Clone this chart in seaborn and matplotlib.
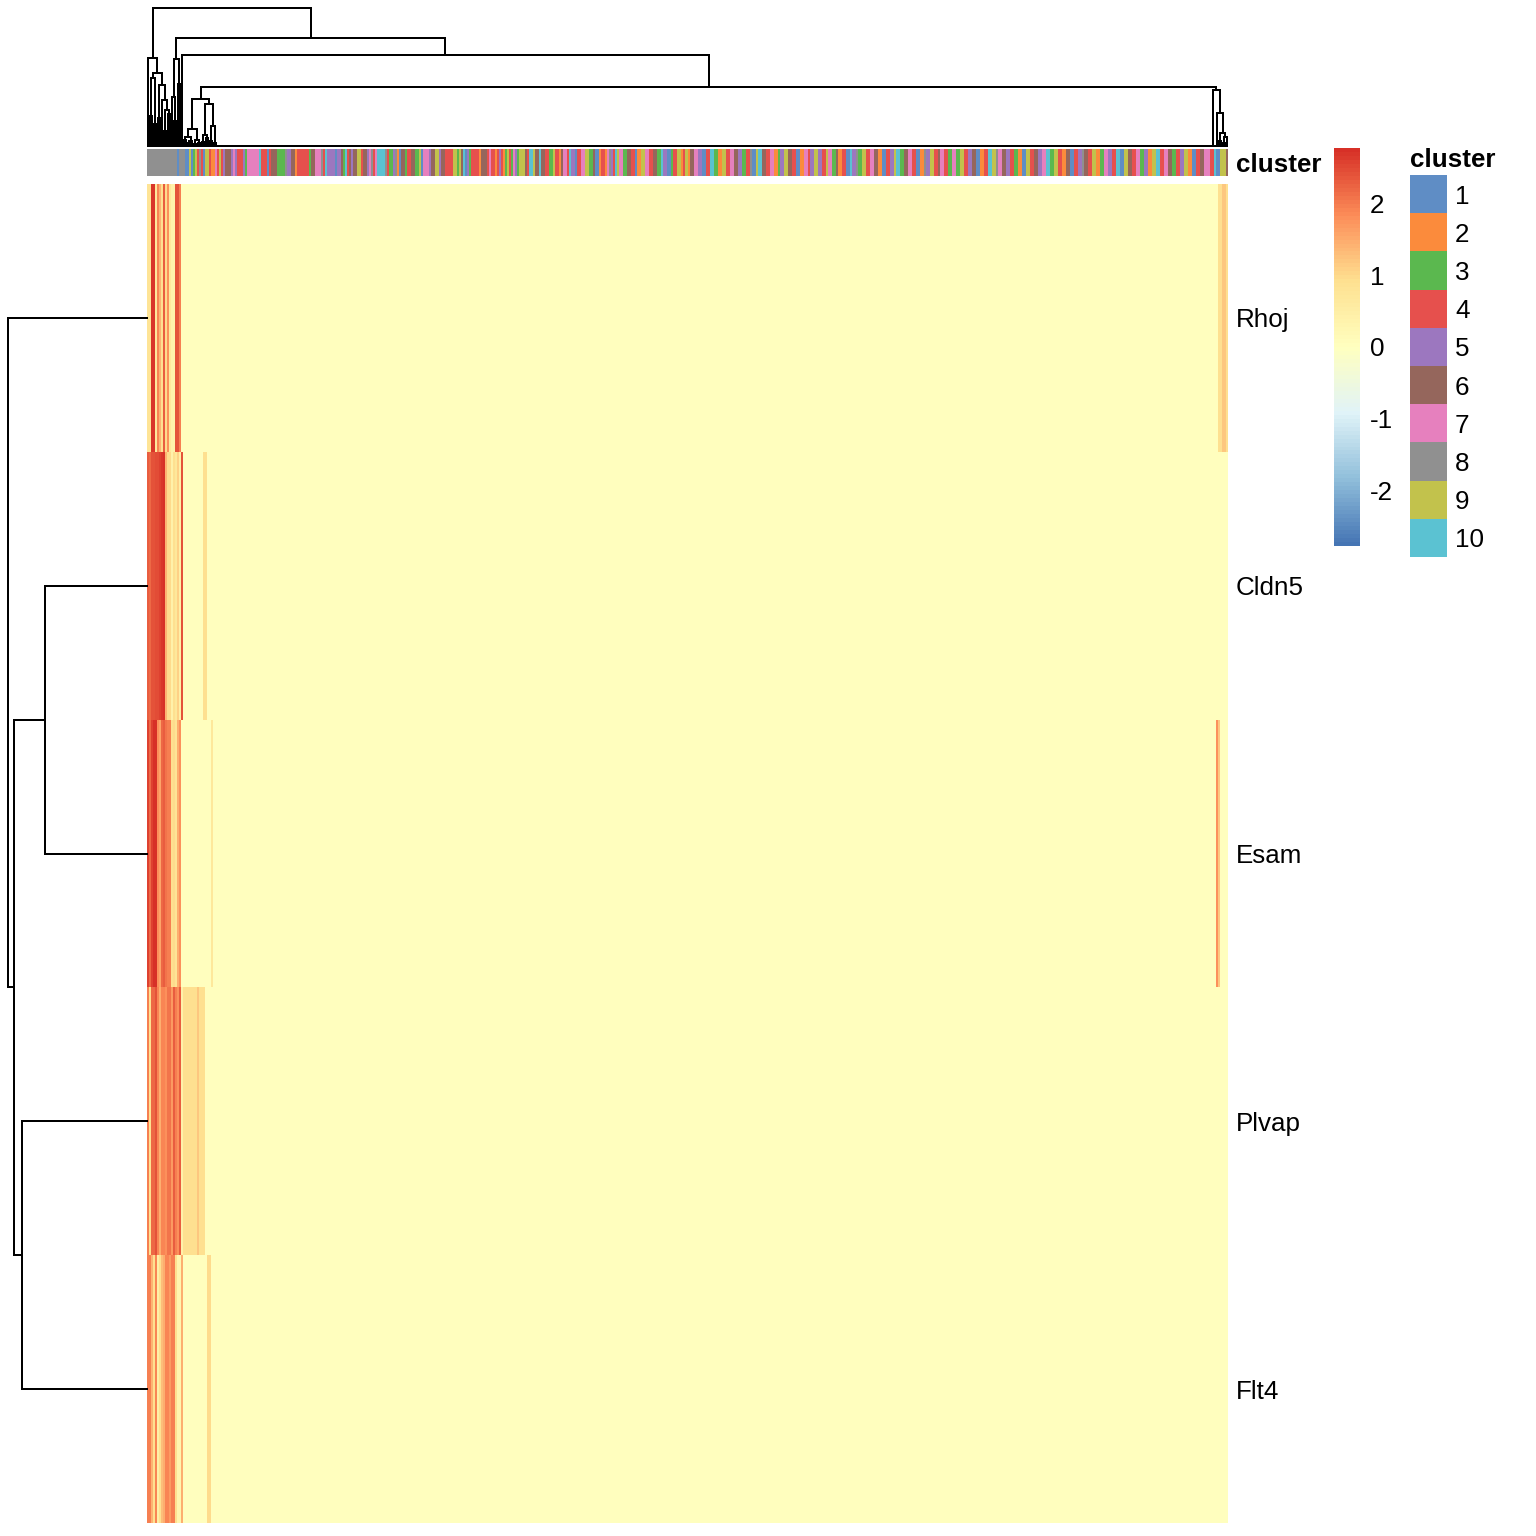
import numpy as np
import pandas as pd
import matplotlib
matplotlib.use("Agg")
import matplotlib.pyplot as plt
import seaborn as sns
from matplotlib.colors import LinearSegmentedColormap, ListedColormap, Normalize
from matplotlib.cm import ScalarMappable

plt.rcParams["font.family"] = ["Liberation Sans", "DejaVu Sans"]
plt.rcParams["axes.unicode_minus"] = False
FS = 19.5

# ---- data ----
genes = ["Rhoj", "Cldn5", "Esam", "Plvap", "Flt4"]
b = 0.05  # flat background value of most cells

# first 35 columns (the clustered block on the left)
rhoj_left = [0.8, 0.8, 2.7, 2.7, 0.7, 1.9, 1.4, 0.9, 2.3, 1.0, 1.8, 0.7, 0.4, 0.4, 2.4, 2.4, 2.0] + [b] * 18
cldn5_left = [2.3, 2.2, 2.4, 2.4, 2.5, 2.5, 2.6, 2.7, 2.75, 1.4, 1.0, 1.0, 0.4, 0.9, 0.7, 1.1, 0.5, 2.4] \
    + [b] * 10 + [0.9, 0.9] + [b] * 5
esam_left = [2.6, 2.2, 2.6, 2.8, 2.8, 1.8, 1.6, 2.2, 2.3, 2.1, 2.0, 2.0, 0.9, 1.0, 0.8, 1.5, 1.8] \
    + [b] * 15 + [0.7] + [b] * 2
plvap_left = [2.0, 0.9, 2.2, 2.2, 2.4, 1.9, 1.5, 1.9, 1.9, 1.8, 2.1, 2.1, 1.7, 2.3, 2.0, 1.8, 2.3, 0.4] \
    + [0.9] * 7 + [1.2] + [0.9] * 3 + [b] * 6
flt4_left = [2.0, 2.0, 1.4, 0.9, 1.9, 0.5, 0.9, 1.3, 1.5, 1.9, 1.9, 1.7, 2.0, 2.0, 0.9, 0.3, 0.3, 1.5] \
    + [b] * 12 + [1.0, 1.0] + [b] * 3

# last 6 columns (small cluster on the right)
rhoj_right = [b, 0.9, 0.9, 1.2, 1.2, 0.9]
cldn5_right = [b] * 6
esam_right = [1.8, 1.2, b, b, b, b]
plvap_right = [b] * 6
flt4_right = [b] * 6

# cluster annotation: run lengths for the left part, one digit per column after that ('0' = 10)
cluster_runs = [
    (8, 15), (1, 1), (8, 3), (1, 2), (9, 1), (1, 1), (3, 1), (9, 1), (4, 1), (8, 1), (4, 1), (1, 1),
    (9, 2), (4, 1), (2, 2), (7, 1), (4, 1), (9, 1), (4, 1), (5, 1), (6, 3), (5, 1), (7, 1), (5, 1),
    (4, 3), (5, 1), (3, 1), (7, 6), (10, 1), (4, 3), (1, 1), (4, 1), (6, 3), (3, 2),
    (3, 2), (8, 1), (5, 2), (6, 2), (2, 1), (4, 6), (3, 1), (6, 2), (7, 3), (8, 1), (4, 1), (10, 1),
    (5, 4), (1, 1), (5, 2), (6, 1), (3, 1), (10, 1), (4, 1), (6, 1), (5, 1), (6, 2), (9, 2), (4, 1),
    (6, 2), (5, 1), (7, 1), (8, 1), (4, 1), (7, 1), (10, 4), (8, 1), (4, 1), (3, 2), (5, 1), (8, 1),
    (2, 1), (1, 1), (6, 2), (3, 1), (4, 2), (6, 2),
    (3, 2), (9, 1), (1, 1), (7, 3), (5, 1), (6, 2), (9, 2), (5, 1), (6, 2), (4, 4), (9, 2), (3, 1),
    (9, 1), (6, 1), (10, 1), (1, 1), (5, 1), (3, 1), (4, 4), (2, 1), (6, 3), (4, 1), (7, 1), (4, 2),
    (2, 1), (4, 1), (5, 1), (4, 1), (2, 1), (3, 1), (9, 1), (4, 1), (3, 1), (7, 1), (5, 1), (3, 1),
    (9, 3), (6, 1), (4, 1), (10, 2), (9, 1), (6, 2), (10, 1), (6, 2), (4, 2),
]
cluster_rest = [
    "3394426774" "0551447799" "3361124427" "8540977336" "6441229977" "4466330551" "1344992",
    "4926677551" "1440033229" "9447766553" "3448119006" "6447722355" "9966441122" "7745599",
    "5544977336" "2244110558" "3399447766" "2211445590" "0336677441" "1228559944" "6774433",
    "7733994455" "6611224400" "9987766554" "4332211994" "4665577003" "3994422661" "144558",
    "6644992233" "7755440011" "9966447733" "5522990044" "7766334455" "9922114466" "777440",
    "119996",
]
cluster_ids = list(range(1, 11))
cluster_colors = ["#5f8dc5", "#fb8b3c", "#5bb84f", "#e6504d", "#9c77bf",
                  "#95665c", "#e680be", "#909090", "#c2c24c", "#5bc2d2"]

annot = []
for c, n in cluster_runs:
    annot += [c] * n
for chunk in cluster_rest:
    annot += [10 if ch == "0" else int(ch) for ch in chunk]
N = len(annot)
mid = N - len(rhoj_left) - len(rhoj_right)

rows = [
    rhoj_left + [b] * mid + rhoj_right,
    cldn5_left + [b] * mid + cldn5_right,
    esam_left + [b] * mid + esam_right,
    plvap_left + [b] * mid + plvap_right,
    flt4_left + [b] * mid + flt4_right,
]
mat = pd.DataFrame(rows, index=genes, columns=range(N))

# dendrograms: (left, right, height), ints are leaves, ("flat", a, b) = identical columns
r = N - 6
col_tree = (
    (0, (((1, 2, 3.0), (3, 4, 2.2), 6.8),
         ((5, 6, 2.8), (7, ((8, 9, 1.5), (10, 11, 3.2), 3.6), 4.6), 6.1), 7.3), 8.8),
    (((12, (13, 14, 2.5), 4.9), (15, 16, 6.2), 8.7),
     (17,
      (((((18, 19, 0.6), ((20, 21, 0.3), 22, 0.5), 0.9), ((23, 24, 0.2), (25, 26, 0.3), 0.6), 1.7),
        (((27, 28, 0.4), (29, 30, 0.8), 1.1), ((31, 32, 0.5), (33, 34, 0.3), 2.0), 4.2), 4.7),
       (("flat", 35, r - 1),
        (r, ((r + 1, r + 2, 0.5), ((r + 3, r + 4, 0.3), r + 5, 0.9), 1.3), 3.3), 5.6), 5.9),
      9.1),
     10.8),
    13.8)
row_tree = (0, ((1, 2, 102), (3, 4, 125), 133), 139)

# ---- figure ----
fig = plt.figure(figsize=(16, 16), dpi=96)


def box(x0, y0, x1, y1):
    return [x0 / 1536, 1 - y1 / 1536, (x1 - x0) / 1536, (y1 - y0) / 1536]


line_kw = dict(color="black", lw=1.5, clip_on=False, solid_joinstyle="miter")


def draw_dendro(ax, node, orient):
    if isinstance(node, int):
        return node + 0.5, 0.0
    if node[0] == "flat":
        x = node[1] + 0.5
        for i in range(node[1] + 1, node[2] + 1):
            x = (x + i + 0.5) / 2
        ax.plot([node[1] + 0.5, node[2] + 0.5], [0, 0], **line_kw)
        return x, 0.0
    left, right, h = node
    xl, hl = draw_dendro(ax, left, orient)
    xr, hr = draw_dendro(ax, right, orient)
    xs, hs = [xl, xl, xr, xr], [hl, h, h, hr]
    if orient == "top":
        ax.plot(xs, hs, **line_kw)
    else:
        ax.plot(hs, xs, **line_kw)
    return (xl + xr) / 2, h


rdylbu = ["#4575b4", "#91bfdb", "#e0f3f8", "#ffffbf", "#fee090", "#fc8d59", "#d73027"]
cmap = LinearSegmentedColormap.from_list("heat", rdylbu, N=100)
clus_cmap = ListedColormap(cluster_colors)
vmin, vmax = -2.78, 2.78

# main heatmap
ax_heat = fig.add_axes(box(147, 184, 1228, 1523))
sns.heatmap(mat, ax=ax_heat, cmap=cmap, vmin=vmin, vmax=vmax, cbar=False,
            xticklabels=False, yticklabels=genes)
ax_heat.yaxis.tick_right()
ax_heat.tick_params(axis="y", length=0, pad=6, labelsize=FS, labelrotation=0)
ax_heat.set_xlabel("")
ax_heat.set_ylabel("")

# cluster annotation bar
ax_ann = fig.add_axes(box(147, 149, 1228, 176))
sns.heatmap(pd.DataFrame([annot], index=["cluster"]), ax=ax_ann, cmap=clus_cmap,
            vmin=0.5, vmax=10.5, cbar=False, xticklabels=False, yticklabels=["cluster"])
ax_ann.yaxis.tick_right()
ax_ann.tick_params(axis="y", length=0, pad=6, labelsize=FS, labelrotation=0)
for t in ax_ann.get_yticklabels():
    t.set_fontweight("bold")
ax_ann.set_xlabel("")
ax_ann.set_ylabel("")

# column dendrogram
ax_cd = fig.add_axes(box(147, 8, 1228, 146))
draw_dendro(ax_cd, col_tree, "top")
ax_cd.set_xlim(0, N)
ax_cd.set_ylim(0, 13.8)
ax_cd.axis("off")

# row dendrogram
ax_rd = fig.add_axes(box(8, 184, 147, 1523))
draw_dendro(ax_rd, row_tree, "left")
ax_rd.set_ylim(len(genes), 0)
ax_rd.set_xlim(139, 0)
ax_rd.axis("off")

# colour scale
cax = fig.add_axes(box(1334, 148, 1360, 546))
cb = fig.colorbar(ScalarMappable(norm=Normalize(vmin, vmax), cmap=cmap), cax=cax,
                  ticks=[-2, -1, 0, 1, 2])
cb.outline.set_visible(False)
cax.tick_params(length=0, pad=7.5, labelsize=FS)

# cluster legend
lax = fig.add_axes(box(1410, 175, 1447, 557))
sns.heatmap(pd.DataFrame({"cluster": cluster_ids}), ax=lax, cmap=clus_cmap, vmin=0.5, vmax=10.5,
            cbar=False, xticklabels=False, yticklabels=cluster_ids)
lax.yaxis.tick_right()
lax.tick_params(axis="y", length=0, pad=6, labelsize=FS, labelrotation=0)
lax.set_ylabel("")
lax.set_title("cluster", loc="left", fontweight="bold", fontsize=FS, pad=6)

fig.savefig("out.png", dpi=96, facecolor="white")
